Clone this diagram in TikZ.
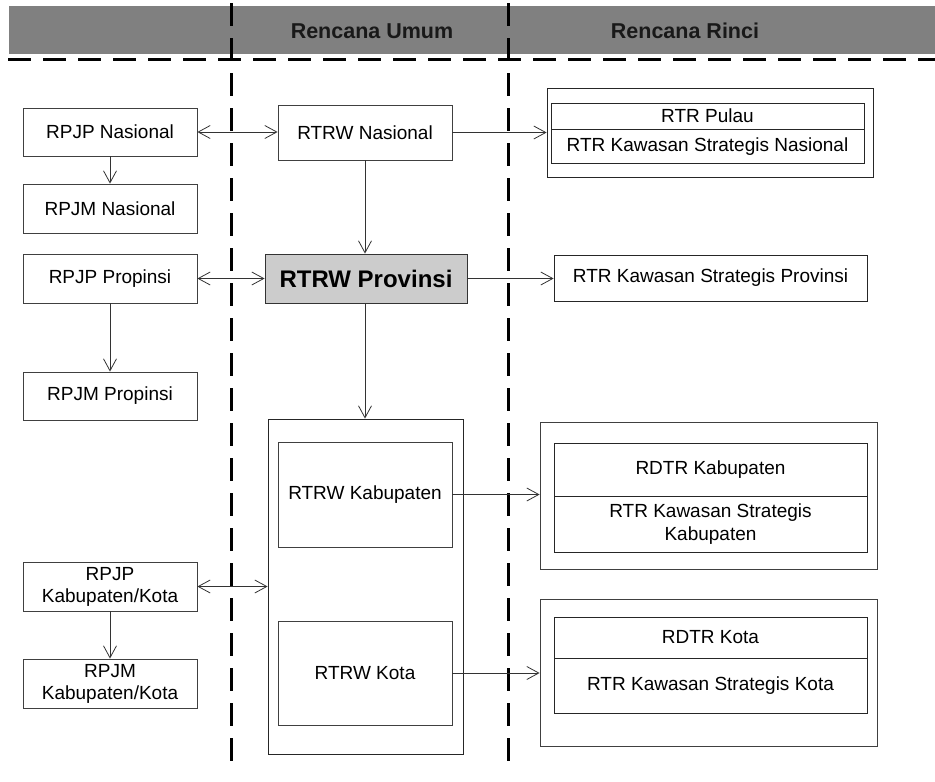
\documentclass[tikz,border=0pt]{standalone}
\usepackage{fontspec}
\setmainfont{Liberation Sans}
\usetikzlibrary{arrows.meta}
\begin{document}
\begin{tikzpicture}[x=1pt,y=-1pt,
  box/.style={draw=black!75, line width=0.8pt, inner sep=0pt, align=center, font=\fontsize{19}{22}\selectfont},
  txt/.style={inner sep=0pt, align=center, font=\fontsize{19}{23}\selectfont},
  conn/.style={draw=black!80, line width=0.8pt, -{Straight Barb[length=12pt,width=13pt]}},
  biconn/.style={draw=black!80, line width=0.8pt, {Straight Barb[length=12pt,width=13pt]}-{Straight Barb[length=12pt,width=13pt]}},
  divline/.style={black, line width=3pt, dash pattern=on 23pt off 12pt},
  head/.style={font=\fontsize{21.5}{24}\selectfont\bfseries, text=black!90, inner sep=0pt}
]
\useasboundingbox (0,0) rectangle (935,782);
% header band
\fill[black!50] (9,6) rectangle (935,54);
\node[head] (hum) at (372,31) {Rencana Umum};
\node[head] (hri) at (685,31) {Rencana Rinci};
% dashed separators
\draw[divline] (8,59) -- (935,59);
\draw[divline] (231,3) -- (231,768);
\draw[divline] (508,3) -- (508,768);

% left column
\node[box, minimum width=174pt, minimum height=48pt] (rpjpn) at (110,132) {RPJP Nasional};
\node[box, minimum width=174pt, minimum height=49pt] (rpjmn) at (110,208.5) {RPJM Nasional};
\node[box, minimum width=174pt, minimum height=49pt] (rpjpp) at (110,278.5) {RPJP Propinsi};
\node[box, minimum width=174pt, minimum height=48pt] (rpjmp) at (110,396) {RPJM Propinsi};
\node[box, minimum width=174pt, minimum height=49pt] (rpjpk) at (110,586.5) {RPJP\\Kabupaten/Kota};
\node[box, minimum width=174pt, minimum height=49pt] (rpjmk) at (110,683.5) {RPJM\\Kabupaten/Kota};

% middle column
\node[box, minimum width=174pt, minimum height=55pt] (rtrwn) at (365,132.5) {RTRW Nasional};
\node[box, draw=black!80, fill=black!20, minimum width=202pt, minimum height=49pt,
      font=\fontsize{24}{28}\selectfont\bfseries] (rtrwp) at (366,278.5) {RTRW Provinsi};
\node[box, draw=black!85, minimum width=195pt, minimum height=335pt] (cont) at (365.5,586.5) {};
\node[box, minimum width=174pt, minimum height=105pt] (rtrwkab) at (365,494.5) {RTRW Kabupaten};
\node[box, minimum width=174pt, minimum height=104pt] (rtrwkota) at (365,673) {RTRW Kota};

% right column
\node[box, draw=black!85, minimum width=326pt, minimum height=89pt] (pulauo) at (710,132.5) {};
\draw[black!85, line width=0.8pt] (551,103) rectangle (864,163);
\draw[black!85, line width=0.8pt] (551,129) -- (864,129);
\node[txt] (pulau) at (707.5,116) {RTR Pulau};
\node[txt] (ksn) at (707.5,146.5) {RTR Kawasan Strategis Nasional};

\node[box, draw=black!85, minimum width=313pt, minimum height=46pt] (ksp) at (710.5,278) {RTR Kawasan Strategis Provinsi};

\node[box, minimum width=337pt, minimum height=147pt] (kabo) at (708.5,495.5) {};
\draw[black!85, line width=0.8pt] (554,443) rectangle (867,552);
\draw[black!85, line width=0.8pt] (554,496) -- (867,496);
\node[txt] (rdtrkab) at (710.5,469.5) {RDTR Kabupaten};
\node[txt] (kskab) at (710.5,524) {RTR Kawasan Strategis\\Kabupaten};

\node[box, minimum width=337pt, minimum height=147pt] (kotao) at (708.5,672.5) {};
\draw[black!85, line width=0.8pt] (554,617) rectangle (867,713);
\draw[black!85, line width=0.8pt] (554,658) -- (867,658);
\node[txt] (rdtrkota) at (710.5,637.5) {RDTR Kota};
\node[txt] (kskota) at (710.5,685.5) {RTR Kawasan Strategis Kota};

% connectors
\draw[biconn] (rpjpn.east) -- (rtrwn.west |- rpjpn.east);
\draw[conn] (rpjpn) -- (rpjmn);
\draw[conn] (rtrwn.south) -- (rtrwp.north -| rtrwn.south);
\draw[conn] (rtrwn.east) -- (pulauo.west |- rtrwn.east);
\draw[biconn] (rpjpp.east) -- (rtrwp.west |- rpjpp.east);
\draw[conn] (rtrwp.east) -- (ksp.west |- rtrwp.east);
\draw[conn] (rpjpp) -- (rpjmp);
\draw[conn] (rtrwp.south -| rtrwn.south) -- (cont.north -| rtrwn.south);
\draw[biconn] (rpjpk.east) -- (cont.west |- rpjpk.east);
\draw[conn] (rpjpk) -- (rpjmk);
\draw[conn] (rtrwkab.east) -- (kabo.west |- rtrwkab.east);
\draw[conn] (rtrwkota.east) -- (kotao.west |- rtrwkota.east);
\end{tikzpicture}
\end{document}
